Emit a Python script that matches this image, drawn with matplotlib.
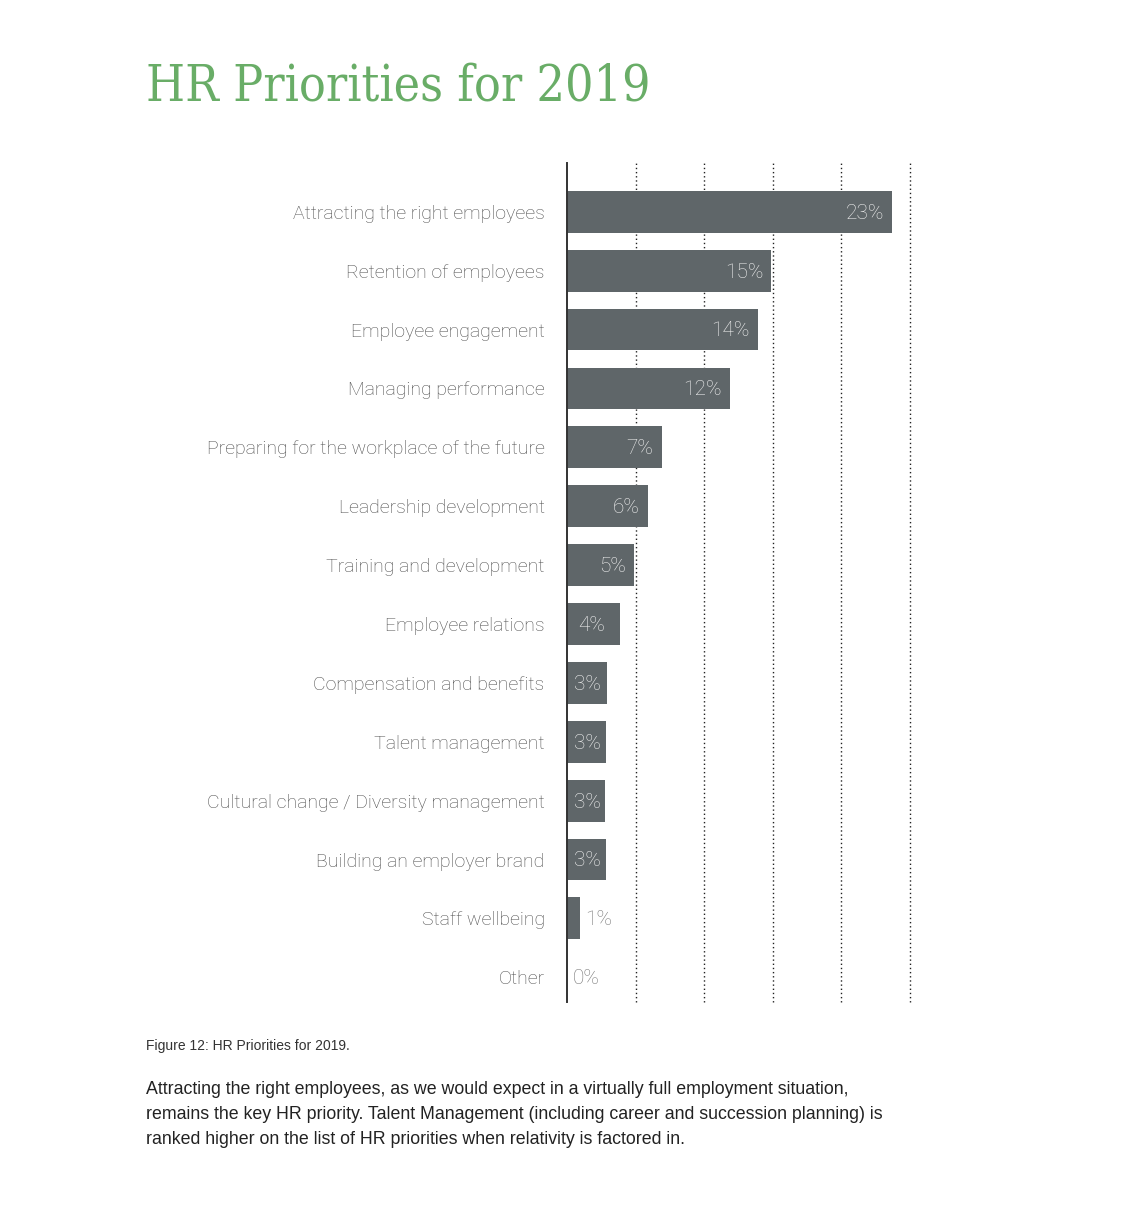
import matplotlib
matplotlib.use("Agg")
import matplotlib.pyplot as plt

# data (bar lengths in %, printed labels rounded)
categories = [
    "Attracting the right employees",
    "Retention of employees",
    "Employee engagement",
    "Managing performance",
    "Preparing for the workplace of the future",
    "Leadership development",
    "Training and development",
    "Employee relations",
    "Compensation and benefits",
    "Talent management",
    "Cultural change / Diversity management",
    "Building an employer brand",
    "Staff wellbeing",
    "Other",
]
values = [23.7, 14.9, 13.9, 11.9, 6.9, 5.9, 4.9, 3.9, 2.95, 2.85, 2.8, 2.85, 0.95, 0.0]
labels = ["23%", "15%", "14%", "12%", "7%", "6%", "5%", "4%", "3%", "3%", "3%", "3%", "1%", "0%"]
grid_ticks = [5, 10, 15, 20, 25]

plt.rcParams["font.family"] = ["Roboto", "DejaVu Sans"]

fig = plt.figure(figsize=(11.33, 12.29), dpi=100)
ax = fig.add_axes([0.5004, 0.1847, 0.3027, 0.6827])

y = list(range(len(categories)))
ax.barh(y, values, height=0.71, color="#5f6669", zorder=3)

for xv in grid_ticks:
    ax.axvline(xv, color="#222222", lw=1.0, ls=(0, (1, 2)), zorder=1, clip_on=False)

for i, (v, lab) in enumerate(zip(values, labels)):
    if v >= 4.5:
        ax.annotate(lab, (v, i), xytext=(-6, -1), textcoords="offset points",
                    ha="right", va="center", fontsize=15, color="#f2f2f2",
                    fontweight="light", zorder=4)
    elif v >= 2:
        ax.annotate(lab, (0, i), xytext=(5 if v < 3.5 else 8, -1), textcoords="offset points",
                    ha="left", va="center", fontsize=15, color="#f2f2f2",
                    fontweight="light", zorder=4)
    else:
        ax.annotate(lab, (v, i), xytext=(4, -1), textcoords="offset points",
                    ha="left", va="center", fontsize=15, color="#777777",
                    fontweight="light", zorder=4)

ax.set_xlim(0, 25)
ax.set_ylim(13.42, -0.83)
ax.set_xticks([])
ax.set_yticks(y)
ax.set_yticklabels(categories, fontsize=14, color="#4d4d4d", fontweight="light")
ax.tick_params(axis="y", length=0, pad=16)
for s in ["top", "right", "bottom"]:
    ax.spines[s].set_visible(False)
ax.spines["left"].set_color("#333333")
ax.spines["left"].set_linewidth(1.4)
ax.spines["left"].set_zorder(5)

fig.text(0.129, 0.9185, "HR Priorities for 2019", fontsize=35.8, color="#69ad67",
         family="DejaVu Serif", fontstretch="condensed", ha="left", va="baseline")

fig.text(0.129, 0.1488, "Figure 12: HR Priorities for 2019.", fontsize=10,
         color="#333333", family="Liberation Sans", ha="left", va="center")

para = ("Attracting the right employees, as we would expect in a virtually full employment situation,\n"
        "remains the key HR priority. Talent Management (including career and succession planning) is\n"
        "ranked higher on the list of HR priorities when relativity is factored in.")
fig.text(0.129, 0.1205, para, fontsize=12.75, color="#222222", family="Liberation Sans",
         ha="left", va="top", linespacing=1.6)

fig.savefig("out.png", dpi=100, facecolor="white")
